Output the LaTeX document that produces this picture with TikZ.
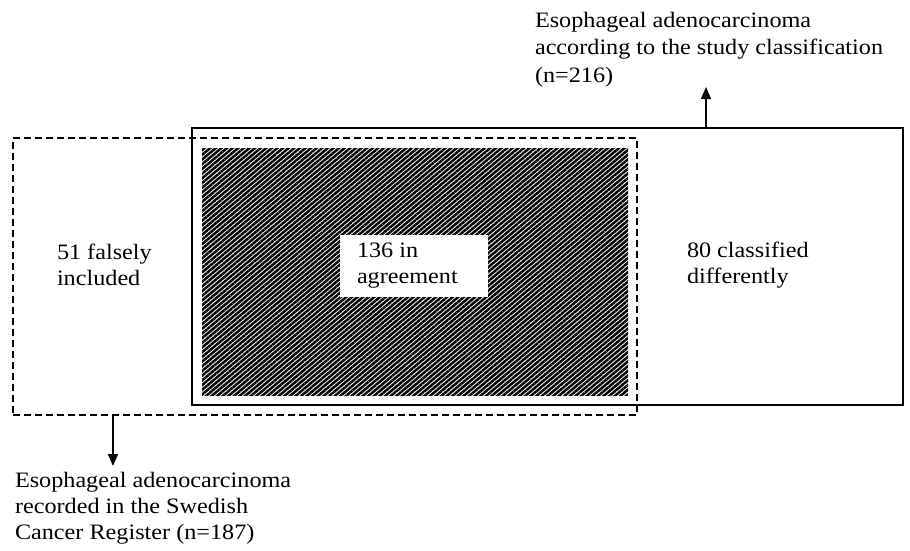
\documentclass[tikz,border=0pt]{standalone}
\usepackage{fontspec}
\setmainfont{Liberation Serif}[FakeStretch=1.1]
\usetikzlibrary{patterns.meta,arrows.meta}
\begin{document}
\begin{tikzpicture}[x=1pt,y=-1pt,
  every node/.style={inner sep=0pt,outer sep=0pt},
  txt/.style={align=left,anchor=north west,font=\fontsize{22}{26}\selectfont},
  toptxtstyle/.style={align=left,anchor=north west,font=\fontsize{22}{27.5}\selectfont},
  studybox/.style={draw=black,line width=1.6pt},
  regbox/.style={draw=black,line width=1.3pt,dash pattern=on 7pt off 4pt},
  hatchbox/.style={pattern={Lines[angle=40,distance=3.6pt,line width=2.5pt]},pattern color=black},
  whitebox/.style={fill=white},
  arr/.style={line width=1.6pt,-{Triangle[length=12pt,width=10pt]}}]
\useasboundingbox (0,0) rectangle (910,550);
\fill[white] (0,0) rectangle (910,550);
% boxes
\node[hatchbox,minimum width=426pt,minimum height=247pt] (agree) at (415,271.5) {};
\node[studybox,minimum width=711pt,minimum height=277pt] (study) at (547.5,266.5) {};
\node[regbox,minimum width=624pt,minimum height=277pt] (reg) at (325,276.5) {};
\node[whitebox,minimum width=148pt,minimum height=62pt] (agreelbl) at (414,266) {};
% texts
\node[txt] (t136) at (357,243) {136 in\\agreement};
\node[txt] (t51) at (57,244) {51 falsely\\included};
\node[txt] (t80) at (687,242) {80 classified\\differently};
\node[toptxtstyle] (toptxt) at (535,12) {Esophageal adenocarcinoma\\according to the study classification\\(n=216)};
\node[txt] (bottxt) at (15,472) {Esophageal adenocarcinoma\\recorded in the Swedish\\Cancer Register (n=187)};
% arrows
\coordinate (ua) at (706,87);
\coordinate (da) at (113,466);
\draw[arr] (ua |- study.north) -- (ua);
\draw[arr] (da |- reg.south) -- (da);
\end{tikzpicture}
\end{document}
